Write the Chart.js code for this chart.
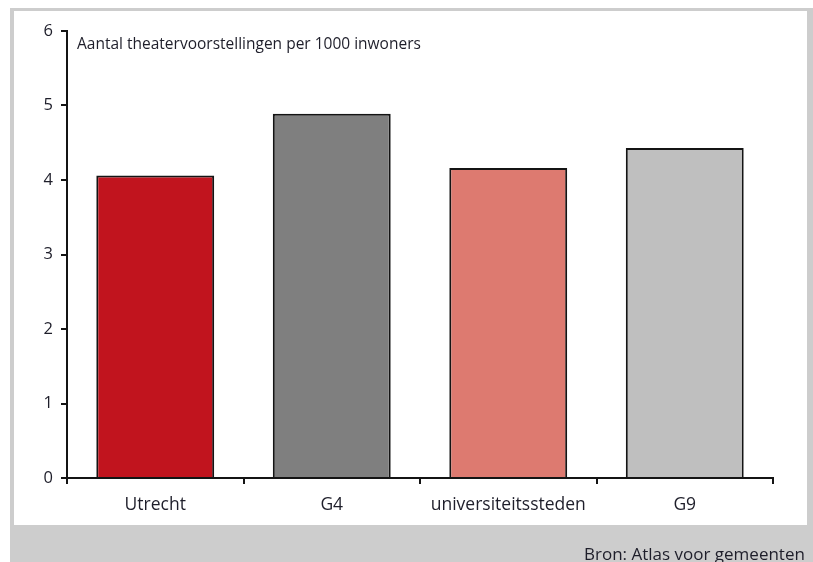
<!DOCTYPE html>
<html>
<head>
<meta charset="utf-8">
<script src="https://cdn.jsdelivr.net/npm/chart.js@4/dist/chart.umd.min.js"></script>
<style>
  html, body { margin: 0; padding: 0; background: #ffffff; }
  #wrap { position: relative; width: 813px; height: 562px; overflow: hidden; }
  canvas { position: absolute; left: 0; top: 0; }
  .txt { position: absolute; font-family: "Open Sans", sans-serif; color: #1e1e2a; white-space: nowrap; }
  #ytitle { left: 77px; top: 32px; font-size: 15.5px; }
  #source { left: 584px; top: 542px; font-size: 17px; }
</style>
</head>
<body>
<div id="wrap">
  <canvas id="c" width="813" height="562"></canvas>
  <div class="txt" id="ytitle">Aantal theatervoorstellingen per 1000 inwoners</div>
  <div class="txt" id="source">Bron: Atlas voor gemeenten</div>
</div>
<script>
const categories = ["Utrecht", "G4", "universiteitssteden", "G9"];
const values = [4.06, 4.89, 4.16, 4.43];
const barColors = ["#c1141e", "#7f7f7f", "#dd7a70", "#bfbfbf"];
const yTicks = [0, 1, 2, 3, 4, 5, 6];

const framePlugin = {
  id: "frame",
  beforeDraw(chart) {
    const ctx = chart.ctx;
    ctx.save();
    ctx.fillStyle = "#ffffff";
    ctx.fillRect(0, 0, 813, 562);
    ctx.fillStyle = "#cdcdcd";
    ctx.fillRect(10, 8, 803, 554);
    ctx.fillStyle = "#ffffff";
    ctx.fillRect(14, 11, 793, 514);
    ctx.restore();
  }
};

new Chart(document.getElementById("c"), {
  type: "bar",
  data: {
    labels: categories,
    datasets: [{
      data: values,
      backgroundColor: barColors,
      borderColor: "#141414",
      borderWidth: 2,
      categoryPercentage: 1.0,
      barPercentage: 0.668
    }]
  },
  options: {
    responsive: false,
    animation: false,
    devicePixelRatio: 1,
    layout: { padding: { left: 0, right: 40, top: 31, bottom: 0 } },
    plugins: { legend: { display: false }, tooltip: { enabled: false } },
    scales: {
      x: {
        grid: { drawOnChartArea: false, drawTicks: true, tickLength: 6, color: "#141414", lineWidth: 2, offset: true },
        border: { display: true, color: "#141414", width: 2 },
        ticks: { color: "#1e1e2a", font: { family: "Open Sans", size: 17.5 }, padding: 11, maxRotation: 0 },
        afterFit(scale) { scale.height = 84; }
      },
      y: {
        min: 0,
        max: 6,
        afterBuildTicks(scale) { scale.ticks = yTicks.map(v => ({ value: v })); },
        grid: { drawOnChartArea: false, drawTicks: true, tickLength: 6, color: "#141414", lineWidth: 2 },
        border: { display: true, color: "#141414", width: 2 },
        ticks: { color: "#1e1e2a", font: { family: "Open Sans", size: 16.5 }, padding: 8 },
        afterFit(scale) { scale.width = 67; }
      }
    }
  },
  plugins: [framePlugin]
});
</script>
</body>
</html>
